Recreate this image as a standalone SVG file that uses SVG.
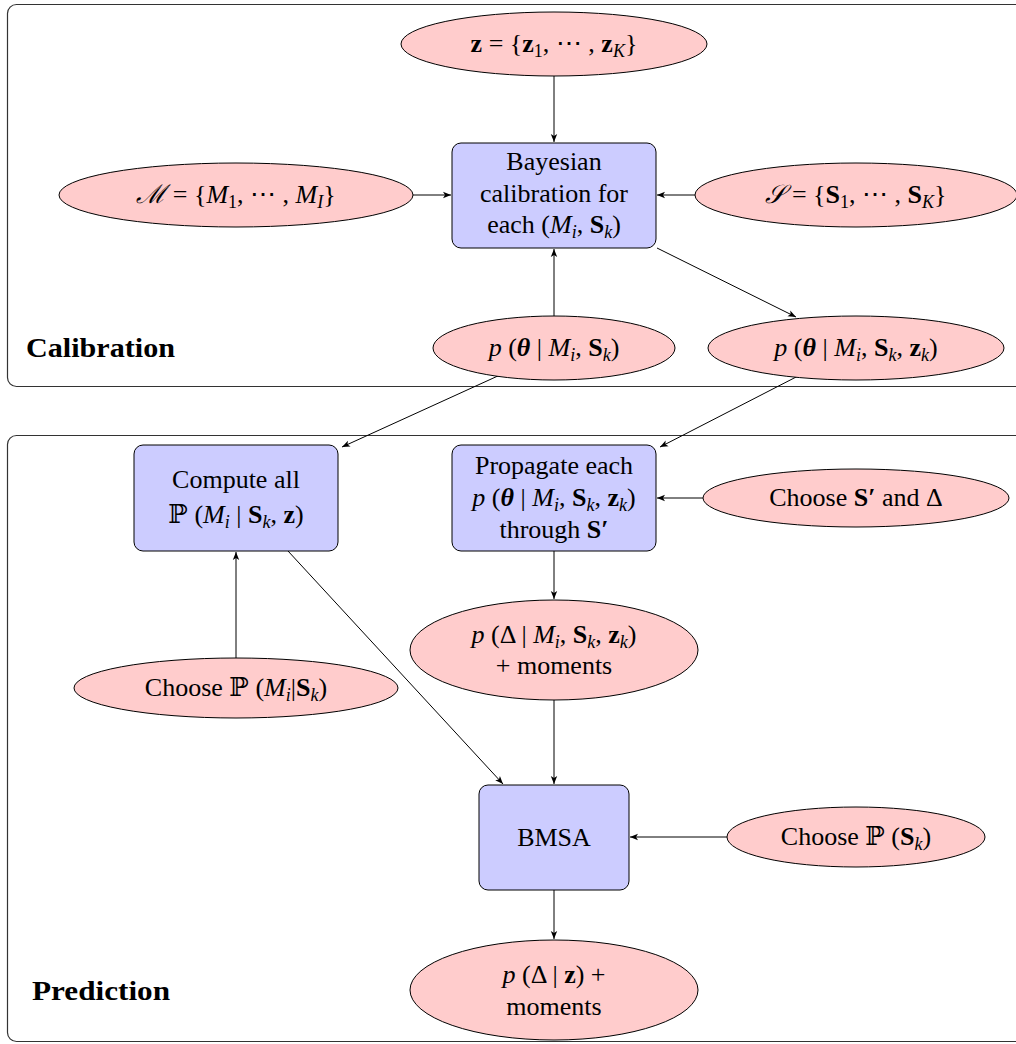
<svg xmlns="http://www.w3.org/2000/svg" width="1016" height="1044" viewBox="0 0 1016 1044">
<defs>
<marker id="arr" markerUnits="userSpaceOnUse" markerWidth="10" markerHeight="8" refX="8" refY="4" orient="auto">
<path d="M0,0.8 L8,4 L0,7.2 L2,4 Z" fill="#000"/>
</marker>
</defs>
<style>
text{font-family:"Liberation Serif","DejaVu Serif",serif;font-size:26px;fill:#000;text-anchor:middle}
.i{font-style:italic}
.b{font-weight:bold}
.bi{font-weight:bold;font-style:italic}
.s{font-size:18px}
.si{font-size:18px;font-style:italic}
.lab{font-weight:bold;text-anchor:start;font-size:27px}
.frame{fill:none;stroke:#333;stroke-width:1.2}
.ell{fill:#ffcccc;stroke:#000;stroke-width:1}
.box{fill:#ccccff;stroke:#000;stroke-width:1}
.con line{stroke:#000;stroke-width:1;marker-end:url(#arr)}
</style>
<rect width="1016" height="1044" fill="#fff"/>
<g id="frames">
<rect class="frame" x="7.5" y="4.5" width="1040" height="382" rx="9"/>
<rect class="frame" x="7.5" y="435.5" width="1040" height="606" rx="9"/>
<text class="lab" x="26" y="357" textLength="149" lengthAdjust="spacingAndGlyphs">Calibration</text>
<text class="lab" x="32" y="1000" textLength="138" lengthAdjust="spacingAndGlyphs">Prediction</text>
</g>
<g class="con" id="connectors">
<line x1="554" y1="76" x2="554" y2="142"/>
<line x1="413" y1="195" x2="451" y2="195"/>
<line x1="695" y1="195" x2="657" y2="195"/>
<line x1="554" y1="316" x2="554" y2="249"/>
<line x1="657" y1="248" x2="796" y2="317"/>
<line x1="500" y1="375" x2="342" y2="447"/>
<line x1="800" y1="375" x2="660" y2="447"/>
<line x1="703" y1="498" x2="657" y2="498"/>
<line x1="554" y1="551" x2="554" y2="599"/>
<line x1="236" y1="658" x2="236" y2="552"/>
<line x1="288" y1="551" x2="503" y2="784"/>
<line x1="554" y1="700" x2="554" y2="784"/>
<line x1="727" y1="837" x2="630" y2="837"/>
<line x1="554" y1="890" x2="554" y2="939"/>
</g>
<g id="n_z">
<ellipse class="ell" cx="554" cy="44" rx="153" ry="32"/>
<text x="554" y="52"><tspan class="b">z</tspan> = {<tspan class="b">z</tspan><tspan class="s" dy="5">1</tspan><tspan dy="-5">, ⋯ , </tspan><tspan class="b">z</tspan><tspan class="si" dy="5">K</tspan><tspan dy="-5">}</tspan></text>
</g>
<g id="n_bayes">
<rect class="box" x="452" y="143" width="204" height="105" rx="9"/>
<text x="554" y="170">Bayesian</text>
<text x="554" y="202">calibration for</text>
<text x="554" y="233">each (<tspan class="i">M</tspan><tspan class="si" dy="5">i</tspan><tspan dy="-5">, </tspan><tspan class="b">S</tspan><tspan class="si" dy="5">k</tspan><tspan dy="-5">)</tspan></text>
</g>
<g id="n_M">
<ellipse class="ell" cx="236" cy="195" rx="177" ry="32"/>
<text x="236" y="203"><tspan class="i">ℳ</tspan> = {<tspan class="i">M</tspan><tspan class="s" dy="5">1</tspan><tspan dy="-5">, ⋯ , </tspan><tspan class="i">M</tspan><tspan class="si" dy="5">I</tspan><tspan dy="-5">}</tspan></text>
</g>
<g id="n_S">
<ellipse class="ell" cx="856" cy="195" rx="161" ry="32"/>
<text x="856" y="203"><tspan class="i">𝒮</tspan> = {<tspan class="b">S</tspan><tspan class="s" dy="5">1</tspan><tspan dy="-5">, ⋯ , </tspan><tspan class="b">S</tspan><tspan class="si" dy="5">K</tspan><tspan dy="-5">}</tspan></text>
</g>
<g id="n_prior">
<ellipse class="ell" cx="554" cy="348" rx="121" ry="32"/>
<text x="554" y="356"><tspan class="i">p</tspan> (<tspan class="bi">θ</tspan> | <tspan class="i">M</tspan><tspan class="si" dy="5">i</tspan><tspan dy="-5">, </tspan><tspan class="b">S</tspan><tspan class="si" dy="5">k</tspan><tspan dy="-5">)</tspan></text>
</g>
<g id="n_post">
<ellipse class="ell" cx="856" cy="348" rx="148" ry="32"/>
<text x="856" y="356"><tspan class="i">p</tspan> (<tspan class="bi">θ</tspan> | <tspan class="i">M</tspan><tspan class="si" dy="5">i</tspan><tspan dy="-5">, </tspan><tspan class="b">S</tspan><tspan class="si" dy="5">k</tspan><tspan dy="-5">, </tspan><tspan class="b">z</tspan><tspan class="si" dy="5">k</tspan><tspan dy="-5">)</tspan></text>
</g>
<g id="n_compute">
<rect class="box" x="134" y="445" width="204" height="106" rx="9"/>
<text x="236" y="488">Compute all</text>
<text x="236" y="523">ℙ (<tspan class="i">M</tspan><tspan class="si" dy="5">i</tspan><tspan dy="-5"> | </tspan><tspan class="b">S</tspan><tspan class="si" dy="5">k</tspan><tspan dy="-5">, </tspan><tspan class="b">z</tspan>)</text>
</g>
<g id="n_propagate">
<rect class="box" x="452" y="445" width="204" height="106" rx="9"/>
<text x="554" y="474">Propagate each</text>
<text x="554" y="506"><tspan class="i">p</tspan> (<tspan class="bi">θ</tspan> | <tspan class="i">M</tspan><tspan class="si" dy="5">i</tspan><tspan dy="-5">, </tspan><tspan class="b">S</tspan><tspan class="si" dy="5">k</tspan><tspan dy="-5">, </tspan><tspan class="b">z</tspan><tspan class="si" dy="5">k</tspan><tspan dy="-5">)</tspan></text>
<text x="554" y="538">through <tspan class="b">S′</tspan></text>
</g>
<g id="n_chooseS">
<ellipse class="ell" cx="856" cy="498" rx="153" ry="29"/>
<text x="856" y="506">Choose <tspan class="b">S′</tspan> and Δ</text>
</g>
<g id="n_pdelta">
<ellipse class="ell" cx="554" cy="650" rx="144" ry="50"/>
<text x="554" y="643"><tspan class="i">p</tspan> (Δ | <tspan class="i">M</tspan><tspan class="si" dy="5">i</tspan><tspan dy="-5">, </tspan><tspan class="b">S</tspan><tspan class="si" dy="5">k</tspan><tspan dy="-5">, </tspan><tspan class="b">z</tspan><tspan class="si" dy="5">k</tspan><tspan dy="-5">)</tspan></text>
<text x="554" y="674">+ moments</text>
</g>
<g id="n_chooseM">
<ellipse class="ell" cx="236" cy="688" rx="162" ry="30"/>
<text x="236" y="696">Choose ℙ (<tspan class="i">M</tspan><tspan class="si" dy="5">i</tspan><tspan dy="-5">|</tspan><tspan class="b">S</tspan><tspan class="si" dy="5">k</tspan><tspan dy="-5">)</tspan></text>
</g>
<g id="n_bmsa">
<rect class="box" x="479" y="785" width="150" height="105" rx="9"/>
<text x="554" y="846">BMSA</text>
</g>
<g id="n_choosePS">
<ellipse class="ell" cx="856" cy="837" rx="129" ry="30"/>
<text x="856" y="845">Choose ℙ (<tspan class="b">S</tspan><tspan class="si" dy="5">k</tspan><tspan dy="-5">)</tspan></text>
</g>
<g id="n_result">
<ellipse class="ell" cx="554" cy="990" rx="144" ry="50"/>
<text x="554" y="983"><tspan class="i">p</tspan> (Δ | <tspan class="b">z</tspan>) +</text>
<text x="554" y="1015">moments</text>
</g>
</svg>
